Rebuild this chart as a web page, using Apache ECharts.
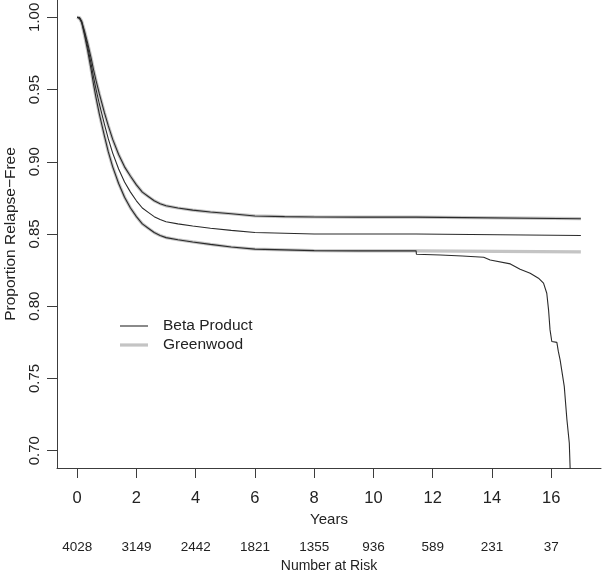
<!DOCTYPE html>
<html>
<head>
<meta charset="utf-8">
<script src="https://cdn.jsdelivr.net/npm/echarts@6/dist/echarts.min.js"></script>
<style>
html,body{margin:0;padding:0;background:#fff;}
#chart{width:602px;height:572px;}
</style>
</head>
<body>
<div id="chart"></div>
<script>
// ---- data ----
const times = [0, 0.08, 0.15, 0.25, 0.35, 0.47, 0.55, 0.64, 0.75, 0.92, 1.05, 1.2, 1.4, 1.6, 1.8, 2.0, 2.2, 2.4, 2.6, 2.8, 3.0, 3.4, 3.9, 4.5, 5.2, 6.0, 7.0, 8.0, 9.5, 11.44, 11.45, 17];
const estimate = [1.000, 0.9995, 0.997, 0.989, 0.980, 0.968, 0.959, 0.950, 0.940, 0.926, 0.916, 0.906, 0.895, 0.886, 0.879, 0.873, 0.868, 0.865, 0.862, 0.860, 0.8585, 0.857, 0.8555, 0.854, 0.8525, 0.851, 0.8505, 0.850, 0.850, 0.850, 0.849, 0.849];
const upperBand = [1.000, 0.9998, 0.9975, 0.9905, 0.9825, 0.972, 0.964, 0.956, 0.947, 0.934, 0.925, 0.9155, 0.905, 0.8965, 0.890, 0.884, 0.879, 0.876, 0.873, 0.871, 0.8695, 0.868, 0.8665, 0.8652, 0.864, 0.8625, 0.862, 0.8618, 0.8617, 0.8617, 0.8606, 0.8606];
const lowerTimes = [0, 0.08, 0.15, 0.25, 0.35, 0.47, 0.55, 0.64, 0.75, 0.92, 1.05, 1.2, 1.4, 1.6, 1.8, 2.0, 2.2, 2.4, 2.6, 2.8, 3.0, 3.4, 3.9, 4.5, 5.2, 6.0, 7.0, 8.0, 9.5, 11.44];
const lowerBand = [1.000, 0.9992, 0.9965, 0.9875, 0.9775, 0.964, 0.954, 0.944, 0.933, 0.918, 0.907, 0.8965, 0.885, 0.8755, 0.868, 0.862, 0.857, 0.854, 0.851, 0.849, 0.8475, 0.846, 0.8445, 0.8428, 0.841, 0.8395, 0.839, 0.8385, 0.8383, 0.8383];
const greenwoodTailTimes = [11.45, 17];
const greenwoodTailValues = [0.8376, 0.8376];
const betaTailTimes = [11.45, 12.26, 13.0, 13.72, 13.94, 14.62, 14.95, 15.29, 15.57, 15.74, 15.85, 15.91, 15.96, 16.02, 16.19, 16.24, 16.30, 16.44, 16.53, 16.61, 16.64, 16.66];
const betaTailValues = [0.836, 0.8355, 0.8348, 0.8339, 0.832, 0.8293, 0.8256, 0.8228, 0.8194, 0.816, 0.809, 0.7975, 0.7836, 0.7756, 0.775, 0.7687, 0.7629, 0.7445, 0.7214, 0.7053, 0.6869, 0.680];
const xTicks = [0, 2, 4, 6, 8, 10, 12, 14, 16];
const riskCounts = ['4028', '3149', '2442', '1821', '1355', '936', '589', '231', '37'];
const yTicks = [0.70, 0.75, 0.80, 0.85, 0.90, 0.95, 1.00];

// ---- build ----
const pairs = (ts, vs) => ts.map((t, i) => [t, vs[i]]);
const lowerGreenwood = pairs(lowerTimes, lowerBand).concat(pairs(greenwoodTailTimes, greenwoodTailValues));
const lowerBeta = pairs(lowerTimes, lowerBand).concat(pairs(betaTailTimes, betaTailValues));

const FONT = "'Liberation Sans', Arial, sans-serif";
const AXIS = '#3c3c3c';
const TXT = '#222';
const GW = { color: '#c4c4c4', width: 3.2 };
const BP = { color: '#2a2a2a', width: 1.1 };

const mkLine = (name, data, ls, z) => ({
  name, type: 'line', data, symbol: 'none', showSymbol: false,
  lineStyle: ls, itemStyle: { color: ls.color }, z, silent: true, clip: true
});

const chart = echarts.init(document.getElementById('chart'), null, { renderer: 'canvas' });
chart.setOption({
  animation: false,
  backgroundColor: '#fff',
  textStyle: { fontFamily: FONT, color: TXT },
  grid: { left: 57, right: 1, top: 0, bottom: 104, containLabel: false, outerBoundsMode: 'none' },
  legend: {
    left: 120, top: 318, orient: 'vertical', padding: 0,
    itemWidth: 28, itemHeight: 14, itemGap: 3,
    data: [
      { name: 'Beta Product', icon: 'path://M0,0M0,14M0,6.45L28,6.45L28,7.55L0,7.55Z', itemStyle: { color: '#2a2a2a' } },
      { name: 'Greenwood', icon: 'path://M0,0M0,14M0,5.4L28,5.4L28,8.6L0,8.6Z', itemStyle: { color: '#c4c4c4' } }
    ],
    textStyle: { fontSize: 15.5, color: TXT, fontFamily: FONT, padding: [0, 0, 0, 10] },
    selectedMode: false
  },
  xAxis: [{
    type: 'value', min: -0.68, max: 17.68, position: 'bottom',
    axisLine: { show: true, onZero: false, lineStyle: { color: AXIS, width: 1 } },
    axisTick: { show: true, customValues: xTicks, length: 10, lineStyle: { color: AXIS } },
    axisLabel: { customValues: xTicks, fontSize: 16.5, margin: 22, color: TXT, fontFamily: FONT },
    splitLine: { show: false },
    name: 'Years', nameLocation: 'middle', nameGap: 40,
    nameTextStyle: { fontSize: 15, color: TXT, fontFamily: FONT }
  }, {
    type: 'value', min: -0.68, max: 17.68, position: 'bottom', offset: 0,
    axisLine: { show: false, onZero: false }, axisTick: { show: false },
    axisLabel: { customValues: xTicks, fontSize: 13.5, margin: 72, color: TXT, fontFamily: FONT,
      formatter: v => riskCounts[xTicks.indexOf(v)] },
    splitLine: { show: false },
    name: 'Number at Risk', nameLocation: 'middle', nameGap: 89,
    nameTextStyle: { fontSize: 14, color: TXT, fontFamily: FONT }
  }],
  yAxis: {
    type: 'value', min: 0.688, max: 1.012, position: 'left',
    axisLine: { show: true, onZero: false, lineStyle: { color: AXIS, width: 1 } },
    axisTick: { show: true, customValues: yTicks, length: 10, lineStyle: { color: AXIS } },
    axisLabel: { customValues: yTicks, rotate: 90, fontSize: 15, margin: 15, color: TXT, fontFamily: FONT,
      formatter: v => v.toFixed(2) },
    splitLine: { show: false },
    name: 'Proportion Relapse\u2212Free', nameLocation: 'middle', nameGap: 37, nameRotate: 90,
    nameTextStyle: { fontSize: 15.5, color: TXT, fontFamily: FONT }
  },
  series: [
    mkLine('Greenwood', pairs(times, upperBand), GW, 1),
    mkLine('Greenwood', lowerGreenwood, GW, 1),
    mkLine('Beta Product', pairs(times, upperBand), BP, 2),
    mkLine('Beta Product', pairs(times, estimate), BP, 2),
    mkLine('Beta Product', lowerBeta, BP, 2)
  ]
});
</script>
</body>
</html>
